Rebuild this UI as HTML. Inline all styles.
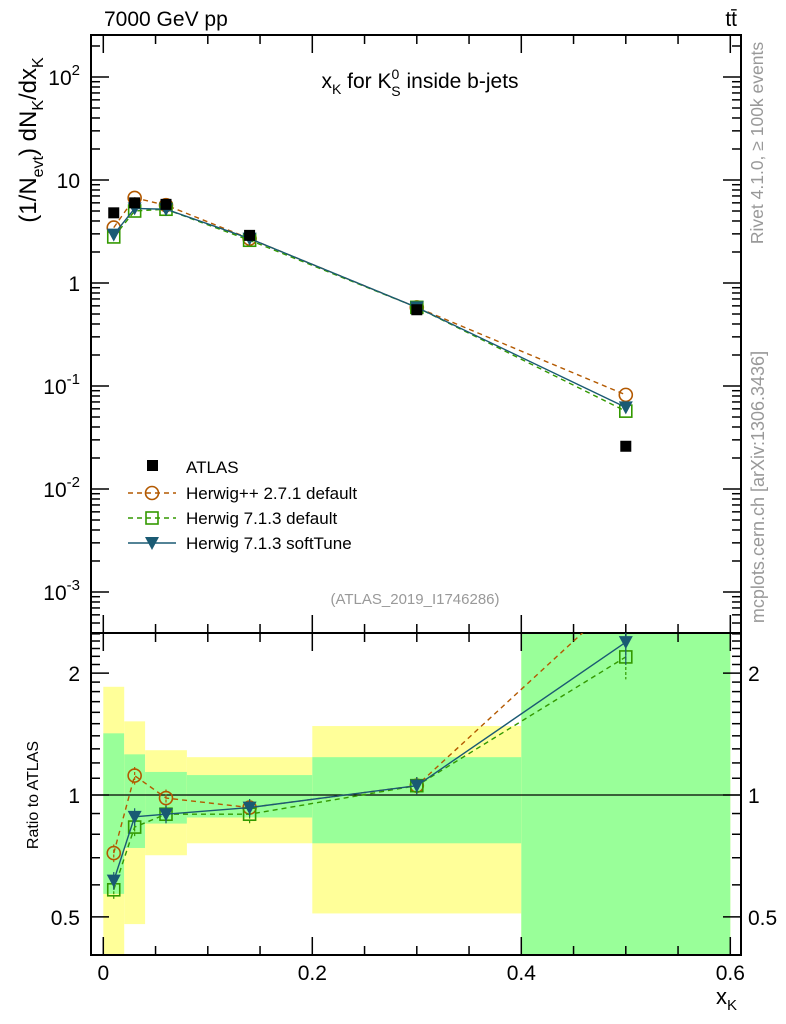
<!DOCTYPE html>
<html><head><meta charset="utf-8"><style>
body{margin:0;background:#fff;}
svg{display:block;font-family:"Liberation Sans",sans-serif;}
</style></head><body>
<svg id="c" width="786" height="1024" xmlns="http://www.w3.org/2000/svg"></svg>
<script>
const binEdges=[0,0.02,0.04,0.08,0.2,0.4,0.6];
const xPoints=[0.01,0.03,0.06,0.14,0.3,0.5];
const atlas=[4.8,6.0,5.8,2.9,0.55,0.026];
const herwigpp=[3.45,6.7,5.7,2.7,0.58,0.082];
const herwig7=[2.8,5.0,5.2,2.6,0.58,0.057];
const softTune=[2.95,5.3,5.2,2.7,0.58,0.062];
const statLo=[0.57,0.74,0.85,0.88,0.76,0.3];
const statHi=[1.42,1.26,1.14,1.12,1.24,3];
const totLo=[0.3,0.48,0.71,0.76,0.51,0.3];
const totHi=[1.85,1.52,1.29,1.24,1.48,3];
const mainTicks=[-3,-2,-1,0,1,2];
const mainTickLabels=["10^-3","10^-2","10^-1","1","10","10^2"];
const ratioTicks=[0.5,1,2];
const ratioTickLabels=["0.5","1","2"];
const xTicks=[0,0.2,0.4,0.6];
const xTickLabels=["0","0.2","0.4","0.6"];

const NS="http://www.w3.org/2000/svg";
const svg=document.getElementById('c');
function el(t,a,p){const e=document.createElementNS(NS,t);for(const k in a)e.setAttribute(k,a[k]);(p||svg).appendChild(e);return e;}
const L=91,R=741,T=35,M=633,B=955;
const X=v=>103.3+v*1045;
const Y=v=>283-Math.log10(v)*103;
const YR=v=>795-Math.log10(v)*405;
const clipR=el('clipPath',{id:'cr'});el('rect',{x:L,y:M,width:R-L,height:B-M},clipR);
const clipM=el('clipPath',{id:'cm'});el('rect',{x:L,y:T,width:R-L,height:M-T},clipM);

const bands=el('g',{'clip-path':'url(#cr)'});


for(let i=0;i<6;i++){
 const x0=X(binEdges[i]),x1=X(binEdges[i+1]);
 let r=el('rect',{x:x0,y:YR(totHi[i]),width:x1-x0,height:YR(totLo[i])-YR(totHi[i]),fill:'#ffff99'},bands);
 
 
 r=el('rect',{x:x0,y:YR(statHi[i]),width:x1-x0,height:YR(statLo[i])-YR(statHi[i]),fill:'#99ff99'},bands);
 
 
}
el('line',{x1:L,x2:R,y1:YR(1),y2:YR(1),stroke:'#000','stroke-width':1.3});

el('rect',{x:L,y:T,width:R-L,height:M-T,fill:'none',stroke:'#000','stroke-width':2});
el('rect',{x:L,y:M,width:R-L,height:B-M,fill:'none',stroke:'#000','stroke-width':2});

for(let v=0;v<=0.6001;v+=0.05){
 const big=Math.abs(v*10-Math.round(v*10))<1e-6&&Math.round(v*10)%2==0;
 const h=big?18:9;
 for(const [y0,d] of [[T,1],[M,-1],[M,1],[B,-1]]) el('line',{x1:X(v),x2:X(v),y1:y0,y2:y0+d*h,stroke:'#000','stroke-width':1.5});
}
xTicks.forEach((v,i)=>{const t=el('text',{x:X(v),y:980,'font-size':21,'text-anchor':'middle'});t.textContent=xTickLabels[i];
});
let xl=el('text',{x:716,y:1004,'font-size':22});xl.innerHTML='x<tspan font-size="15" dy="6">K</tspan>';


for(let d=-4;d<=2;d++){for(let m=1;m<10;m++){const v=m*Math.pow(10,d);const y=Y(v);if(y<T||y>M)continue;const h=m==1?18:9;
 el('line',{x1:L,x2:L+h,y1:y,y2:y,stroke:'#000','stroke-width':1.5});el('line',{x1:R,x2:R-h,y1:y,y2:y,stroke:'#000','stroke-width':1.5});}}
mainTicks.forEach((p,i)=>{const y=Y(Math.pow(10,p));const lab=mainTickLabels[i];const t=el('text',{x:80,y:y+8,'font-size':21,'text-anchor':'end'});
 if(lab.includes('^')){const [b,e]=lab.split('^');t.innerHTML=b+'<tspan font-size="15" dy="-10">'+e+'</tspan>';}else t.textContent=lab;
 });
for(let v=0.4;v<=2.55;v+=0.1){const y=YR(v);if(y<M||y>B)continue;const big=[0.5,1,2].some(q=>Math.abs(q-v)<1e-6);const h=big?18:9;
 el('line',{x1:L,x2:L+h,y1:y,y2:y,stroke:'#000','stroke-width':1.5});el('line',{x1:R,x2:R-h,y1:y,y2:y,stroke:'#000','stroke-width':1.5});}
ratioTicks.forEach((v,i)=>{for(const [x,a] of [[80,'end'],[748,'start']]){const t=el('text',{x:x,y:YR(v)+8,'font-size':21,'text-anchor':a});t.textContent=ratioTickLabels[i];
 }});

const series=[
 {name:'herwigpp',vals:herwigpp,col:'#b35900',dash:'5,4',mk:'circle'},
 {name:'herwig7-default',vals:herwig7,col:'#339900',dash:'5,4',mk:'square'},
 {name:'herwig7-softtune',vals:softTune,col:'#1a5a73',dash:'',mk:'tri'}];
function marker(g,mk,x,y,col){
 if(mk=='circle')return el('circle',{cx:x,cy:y,r:6.5,fill:'none',stroke:col,'stroke-width':1.6},g);
 if(mk=='square')return el('rect',{x:x-6,y:y-6,width:12,height:12,fill:'none',stroke:col,'stroke-width':1.6},g);
 return el('path',{d:`M${x-7},${y-6}L${x+7},${y-6}L${x},${y+7}Z`,fill:col},g);
}
series.forEach(s=>{
 const gm=el('g',{'clip-path':'url(#cm)'});
 
 el('polyline',{points:xPoints.map((x,i)=>X(x)+','+Y(s.vals[i])).join(' '),fill:'none',stroke:s.col,'stroke-width':1.4,'stroke-dasharray':s.dash},gm);
 xPoints.forEach((x,i)=>{const m=marker(gm,s.mk,X(x),Y(s.vals[i]),s.col);});
 const gr=el('g',{'clip-path':'url(#cr)'});
 
 el('polyline',{points:xPoints.map((x,i)=>X(x)+','+YR(s.vals[i]/atlas[i])).join(' '),fill:'none',stroke:s.col,'stroke-width':1.4,'stroke-dasharray':s.dash},gr);
 xPoints.forEach((x,i)=>{const r=s.vals[i]/atlas[i];const e=i==5?0.12:0.05;
  el('line',{x1:X(x),x2:X(x),y1:YR(r*(1+e)),y2:YR(r*(1-e)),stroke:s.col,'stroke-width':1.2,'stroke-dasharray':s.dash?'3,2':''},gr);
  const m=marker(gr,s.mk,X(x),YR(r),s.col);});
});
const ga=el('g',{});
xPoints.forEach((x,i)=>{const r=el('rect',{x:X(x)-5.5,y:Y(atlas[i])-5.5,width:11,height:11,fill:'#000'},ga);
 });

const lg=el('g',{});
el('rect',{x:147,y:460,width:11,height:11,fill:'#000'},lg);
let t=el('text',{x:186,y:473,'font-size':17},lg);t.textContent='ATLAS';
const ly=[493,518,543],ln=['Herwig++ 2.7.1 default','Herwig 7.1.3 default','Herwig 7.1.3 softTune'];
series.forEach((s,i)=>{el('line',{x1:128,x2:176,y1:ly[i],y2:ly[i],stroke:s.col,'stroke-width':1.4,'stroke-dasharray':s.dash},lg);
 marker(lg,s.mk,152,ly[i],s.col);const tt=el('text',{x:186,y:ly[i]+6,'font-size':17},lg);tt.textContent=ln[i];
 });

t=el('text',{x:104,y:26,'font-size':21});t.textContent='7000 GeV pp';
t=el('text',{x:737,y:26,'font-size':21,'text-anchor':'end'});t.innerHTML='tt̄';
t=el('text',{x:420,y:88,'font-size':21,'text-anchor':'middle'});t.innerHTML='x<tspan font-size="14" dy="6">K</tspan><tspan dy="-6"> for K</tspan><tspan font-size="14" dy="-9">0</tspan><tspan font-size="14" dx="-8" dy="17">S</tspan><tspan dy="-8"> inside b-jets</tspan>';

t=el('text',{x:415,y:604,'font-size':15,fill:'#999','text-anchor':'middle'});t.textContent='(ATLAS_2019_I1746286)';
t=el('text',{x:0,y:0,'font-size':24,'text-anchor':'middle',transform:'translate(36,140) rotate(-90)'});
t.innerHTML='(1/N<tspan font-size="16" dy="7">evt</tspan><tspan dy="-7">) dN</tspan><tspan font-size="16" dy="7">K</tspan><tspan dy="-7">/dx</tspan><tspan font-size="16" dy="7">K</tspan>';

t=el('text',{x:0,y:0,'font-size':16,'text-anchor':'middle',transform:'translate(38,795) rotate(-90)'});t.textContent='Ratio to ATLAS';

t=el('text',{x:0,y:0,'font-size':17.5,fill:'#999','text-anchor':'middle',transform:'translate(763,143) rotate(-90)'});t.textContent='Rivet 4.1.0, ≥ 100k events';

t=el('text',{x:0,y:0,'font-size':18,fill:'#999','text-anchor':'middle',transform:'translate(764,487) rotate(-90)'});t.textContent='mcplots.cern.ch [arXiv:1306.3436]';

</script>
</body></html>
